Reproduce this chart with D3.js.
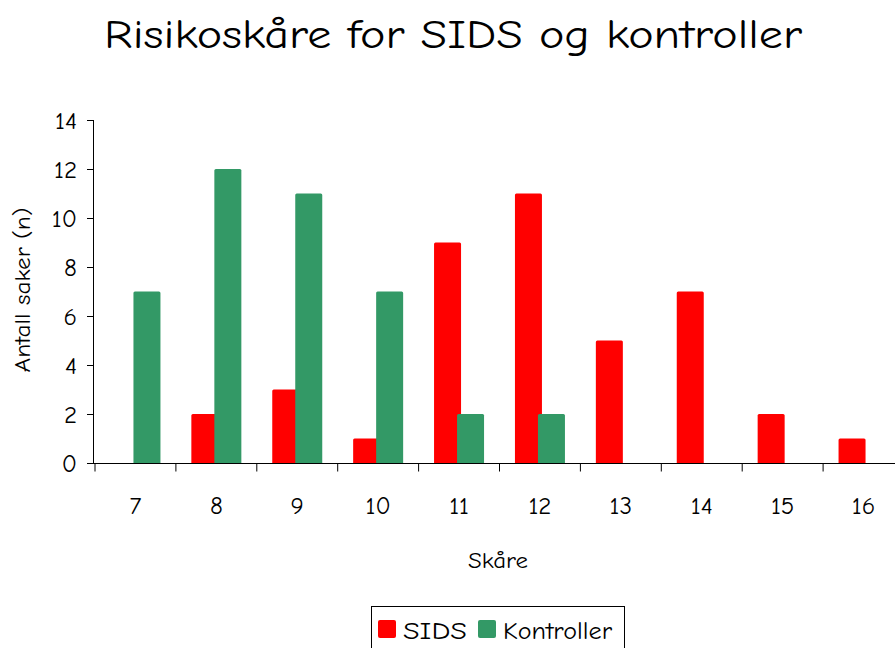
<!DOCTYPE html>
<html><head><meta charset="utf-8">
<script src="https://cdn.jsdelivr.net/npm/d3@7"></script>
<style>body{margin:0;background:#fff}svg{display:block}text{font-family:"Comic Sans MS","Comic Neue","DejaVu Sans",sans-serif;fill:#000}</style>
</head><body><svg id="c" width="895" height="648"></svg>
<script>
const categories = ["7","8","9","10","11","12","13","14","15","16"];
const sids = [0,2,3,1,9,11,5,7,2,1];
const kontroller = [7,12,11,7,2,2,0,0,0,0];
const yTicks = [0,2,4,6,8,10,12,14];
const seriesNames = ["SIDS","Kontroller"];
const colors = ["#ff0000","#339966"];

const svg = d3.select("#c");
const x = d3.scaleBand().domain(categories).range([95, 904]).padding(0);
const y = d3.scaleLinear().domain([0,14]).range([463,120]);

svg.append("text").attr("x",453).attr("y",48).attr("text-anchor","middle")
  .attr("font-size",41).attr("textLength",698).attr("lengthAdjust","spacingAndGlyphs")
  .text("Risikoskåre for SIDS og kontroller");

const bw = 27;
svg.append("g").selectAll("rect").data(categories.map((c,i)=>({c,v:sids[i]})).filter(d=>d.v>0))
  .join("rect").attr("x",d=>x(d.c)+x.bandwidth()/2-25).attr("width",bw)
  .attr("y",d=>y(d.v)).attr("height",d=>y(0)-y(d.v)+1).attr("rx",1.5).attr("fill",colors[0]);
svg.append("g").selectAll("rect").data(categories.map((c,i)=>({c,v:kontroller[i]})).filter(d=>d.v>0))
  .join("rect").attr("x",d=>x(d.c)+x.bandwidth()/2-2).attr("width",bw)
  .attr("y",d=>y(d.v)).attr("height",d=>y(0)-y(d.v)+1).attr("rx",1.5).attr("fill",colors[1]);

const ya = svg.append("g").attr("transform","translate(94,0)")
  .call(d3.axisLeft(y).tickValues(yTicks).tickSize(7).tickPadding(10).tickFormat(d3.format("d")));
ya.select(".domain").attr("stroke","#000").attr("d","M-0.5,120V463.5");
ya.selectAll("text").attr("font-size",25).attr("font-family",null).attr("dy","0.35em");
ya.selectAll("line").attr("stroke","#000");

const xa = svg.append("g").attr("transform","translate(0,463.5)")
  .call(d3.axisBottom(x).tickSize(0).tickPadding(33));
xa.select(".domain").attr("stroke","#000").attr("d","M88,0H895");
xa.selectAll("text").attr("font-size",25).attr("font-family",null);
xa.append("g").selectAll("line").data(categories.concat(["end"])).join("line")
  .attr("x1",(d,i)=>95+i*x.step()).attr("x2",(d,i)=>95+i*x.step())
  .attr("y1",0).attr("y2",8).attr("stroke","#000");

svg.append("text").attr("x",498).attr("y",568).attr("text-anchor","middle").attr("font-size",23)
  .attr("textLength",60).attr("lengthAdjust","spacingAndGlyphs").text("Skåre");
svg.append("text").attr("transform","translate(30,290) rotate(-90)").attr("text-anchor","middle").attr("font-size",22)
  .attr("textLength",165).attr("lengthAdjust","spacingAndGlyphs").text("Antall saker (n)");

const lg = svg.append("g");
lg.append("rect").attr("x",371.5).attr("y",606.5).attr("width",253).attr("height",50).attr("fill","none").attr("stroke","#000");
const lx = [378, 478];
const lw = [64, 109];
seriesNames.forEach((n,i)=>{
  lg.append("rect").attr("x",lx[i]).attr("y",620).attr("width",18).attr("height",18).attr("rx",2).attr("fill",colors[i]);
  lg.append("text").attr("x",lx[i]+25).attr("y",639).attr("font-size",24)
    .attr("textLength",lw[i]).attr("lengthAdjust","spacingAndGlyphs").text(n);
});
</script></body></html>
